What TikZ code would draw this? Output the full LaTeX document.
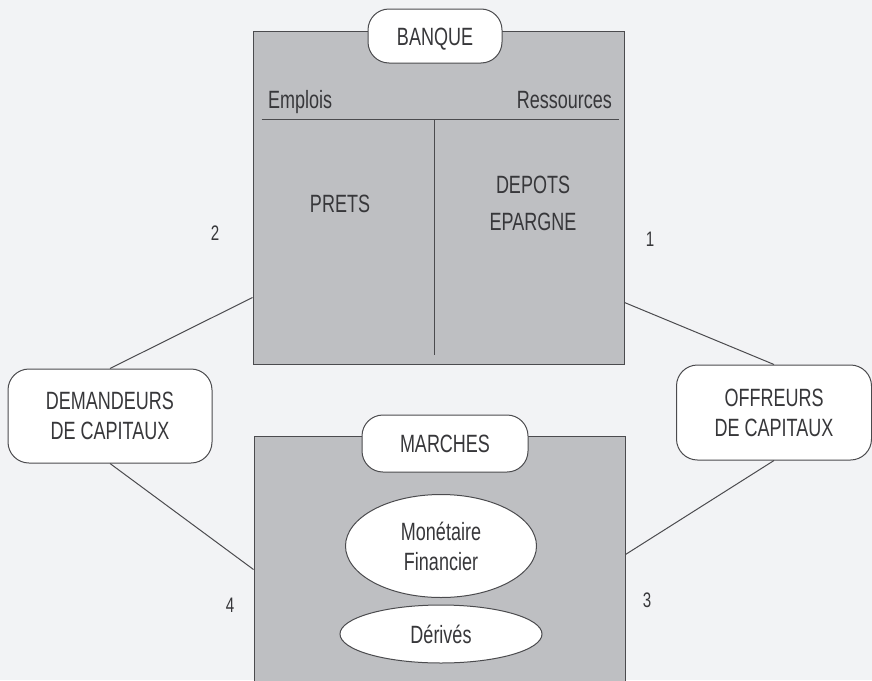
\documentclass[tikz,border=0pt]{standalone}
\usepackage{fontspec}
\setmainfont[FakeStretch=0.72]{Liberation Sans}
\usetikzlibrary{shapes.geometric,calc}
\definecolor{bg}{RGB}{242,243,245}
\definecolor{boxfill}{RGB}{190,191,194}
\definecolor{ink}{RGB}{75,75,78}
\definecolor{txt}{RGB}{55,55,58}
\newcommand\dgfont{\fontsize{25}{30}\selectfont}
\newcommand\dgnum{\fontsize{21}{25}\selectfont}
\tikzset{
  panel/.style={draw=ink, fill=boxfill, line width=1pt, inner sep=0pt},
  pill/.style={draw=ink, fill=white, line width=1pt, rounded corners=21pt, inner sep=0pt, font=\dgfont, text=txt, align=center},
  oval/.style={ellipse, draw=ink, fill=white, line width=1pt, inner sep=0pt, align=center, font=\dgfont, text=txt},
  lab/.style={inner sep=0pt, font=\dgfont, text=txt},
  num/.style={inner sep=0pt, font=\dgnum, text=txt},
  link/.style={draw=ink, line width=1pt}
}
\begin{document}
\begin{tikzpicture}[x=1pt,y=-1pt]
\useasboundingbox (0,0) rectangle (872,680);
\fill[bg] (0,0) rectangle (872,680);
% bank panel
\node[panel, minimum width=371pt, minimum height=333pt] (bank) at (438.5,197.5) {};
\draw[link] ($(bank.north west)+(9,89)$) -- ($(bank.north east)+(-6,89)$);
\draw[link] ($(bank.north)+(-4.5,89)$) -- ($(bank.south)+(-4.5,-10)$);
\node[pill, minimum width=134pt, minimum height=54pt, text height=18pt, text depth=0pt] (banque) at (435,36) {BANQUE};
\node[lab, anchor=base west] (emplois) at (268,108) {Emplois};
\node[lab, anchor=base east] (ressources) at (612,108) {Ressources};
\node[lab, anchor=base] (prets) at (340,212) {PRETS};
\node[lab, anchor=base, align=center, font=\fontsize{25}{37}\selectfont] (depots) at (533,230) {DEPOTS\\EPARGNE};
% market panel
\node[panel, minimum width=371pt, minimum height=264pt] (mkt) at (439.5,568) {};
\node[pill, minimum width=166pt, minimum height=57pt, text height=18pt, text depth=0pt] (marches) at (445,443.5) {MARCHES};
\node[oval, minimum width=191pt, minimum height=103pt] (monet) at (441,546) {Monétaire\\Financier};
\node[oval, minimum width=202pt, minimum height=58pt] (derives) at (441,634) {Dérivés};
% actors
\node[pill, minimum width=204pt, minimum height=94pt] (dem) at (110,416) {DEMANDEURS\\DE CAPITAUX};
\node[pill, minimum width=195pt, minimum height=95pt] (off) at (774,412.5) {OFFREURS\\DE CAPITAUX};
% connectors
\draw[link] ($(bank.north west)+(0,267)$) -- (dem.north);
\draw[link] ($(bank.north east)+(0,272)$) -- (off.north);
\draw[link] (dem.south) -- ($(mkt.north west)+(0,134)$);
\draw[link] ($(mkt.north east)+(0,119)$) -- (off.south);
% numbers
\node[num, anchor=base] (n2) at (215,240) {2};
\node[num, anchor=base] (n1) at (650,246) {1};
\node[num, anchor=base] (n4) at (230,612) {4};
\node[num, anchor=base] (n3) at (647,607) {3};
\end{tikzpicture}
\end{document}
